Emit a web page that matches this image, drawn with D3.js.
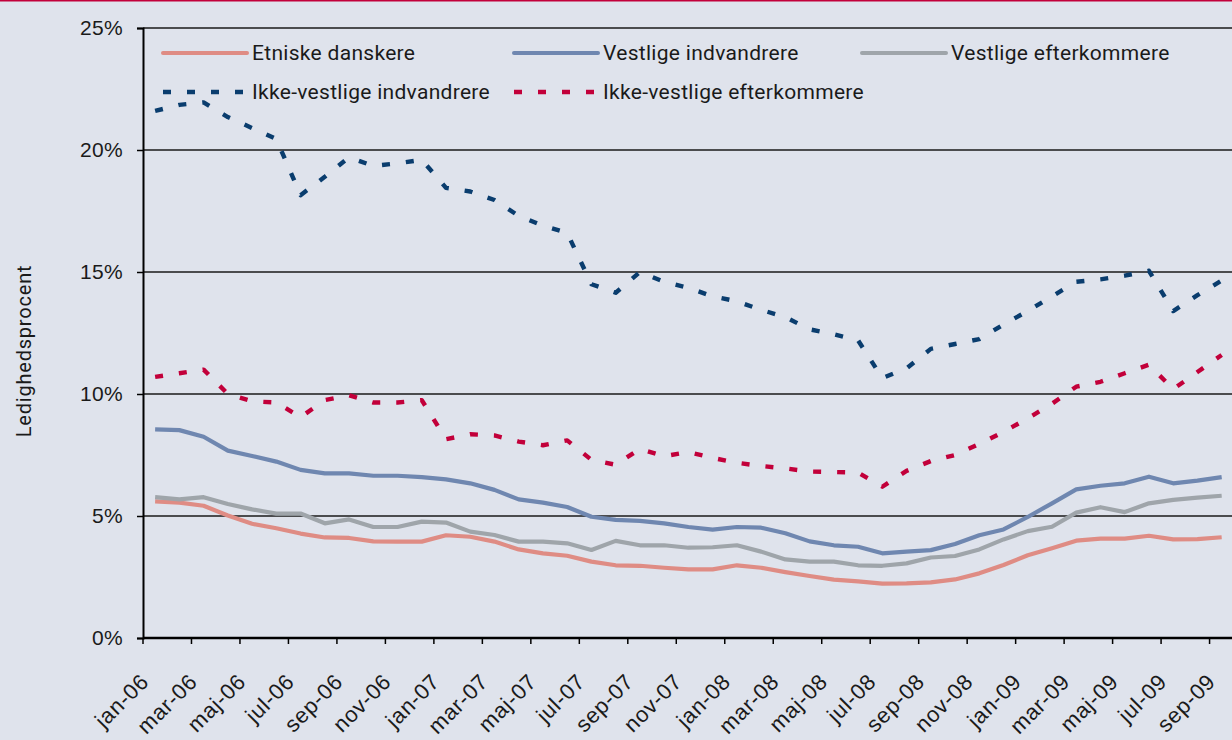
<!DOCTYPE html>
<html>
<head>
<meta charset="utf-8">
<script src="https://cdn.jsdelivr.net/npm/d3@7"></script>
<style>
    body { margin: 0; background: #dfe3ec; }
    svg { display: block; font-family: Roboto, "Open Sans", sans-serif; }
</style>
</head>
<body>
<div id="chart"></div>
<script>
// month categories, jan-06 .. sep-09
const months = [
    "jan-06", "feb-06", "mar-06", "apr-06", "maj-06", "jun-06", "jul-06", "aug-06", "sep-06", "okt-06", "nov-06", "dec-06",
    "jan-07", "feb-07", "mar-07", "apr-07", "maj-07", "jun-07", "jul-07", "aug-07", "sep-07", "okt-07", "nov-07", "dec-07",
    "jan-08", "feb-08", "mar-08", "apr-08", "maj-08", "jun-08", "jul-08", "aug-08", "sep-08", "okt-08", "nov-08", "dec-08",
    "jan-09", "feb-09", "mar-09", "apr-09", "maj-09", "jun-09", "jul-09", "aug-09", "sep-09"
];

// ledighedsprocent per group (%)
const etniskeDanskere = [
    5.6, 5.55, 5.42, 5.02, 4.68, 4.5, 4.28, 4.12, 4.1, 3.96, 3.95, 3.95,
    4.21, 4.15, 3.95, 3.63, 3.47, 3.37, 3.13, 2.98, 2.96, 2.88, 2.81, 2.81,
    2.98, 2.88, 2.7, 2.54, 2.39, 2.32, 2.23, 2.24, 2.28, 2.4, 2.65, 2.99,
    3.39, 3.68, 3.99, 4.07, 4.07, 4.19, 4.04, 4.05, 4.13
];
const vestligeIndvandrere = [
    8.55, 8.52, 8.25, 7.68, 7.46, 7.23, 6.89, 6.75, 6.75, 6.65, 6.65, 6.59,
    6.5, 6.34, 6.07, 5.68, 5.55, 5.37, 4.97, 4.84, 4.8, 4.7, 4.55, 4.44,
    4.55, 4.52, 4.29, 3.96, 3.8, 3.74, 3.47, 3.54, 3.6, 3.85, 4.21, 4.45,
    4.96, 5.52, 6.09, 6.24, 6.34, 6.61, 6.34, 6.45, 6.59
];
const vestligeEfterkommere = [
    5.77, 5.68, 5.77, 5.49, 5.27, 5.1, 5.1, 4.7, 4.86, 4.55, 4.55, 4.77,
    4.73, 4.36, 4.22, 3.95, 3.95, 3.88, 3.61, 3.98, 3.8, 3.8, 3.7, 3.72,
    3.8, 3.54, 3.22, 3.13, 3.13, 2.98, 2.96, 3.06, 3.3, 3.36, 3.63, 4.04,
    4.38, 4.56, 5.14, 5.36, 5.16, 5.52, 5.66, 5.75, 5.83
];
const ikkeVestligeIndvandrere = [
    21.6, 21.85, 21.95, 21.35, 20.9, 20.45, 18.15, 18.9, 19.7, 19.35, 19.45, 19.6,
    18.45, 18.3, 17.95, 17.3, 16.9, 16.6, 14.5, 14.15, 15.0, 14.6, 14.35, 14.0,
    13.8, 13.45, 13.15, 12.65, 12.45, 12.2, 10.65, 11.05, 11.85, 12.05, 12.25, 12.85,
    13.4, 14.0, 14.6, 14.7, 14.85, 15.05, 13.4, 14.05, 14.65
];
const ikkeVestligeEfterkommere = [
    10.7, 10.85, 11.0, 10.0, 9.7, 9.65, 9.05, 9.75, 9.95, 9.65, 9.65, 9.75,
    8.15, 8.35, 8.3, 8.05, 7.9, 8.1, 7.3, 7.1, 7.75, 7.45, 7.62, 7.38,
    7.18, 7.05, 6.95, 6.82, 6.8, 6.78, 6.2, 6.85, 7.25, 7.5, 7.95, 8.45,
    9.0, 9.6, 10.3, 10.5, 10.85, 11.2, 10.2, 10.9, 11.6
];

const yTicks = [0, 5, 10, 15, 20, 25];

const series = [
    {name: "Etniske danskere", values: etniskeDanskere, color: "#df8c84", dash: null},
    {name: "Vestlige indvandrere", values: vestligeIndvandrere, color: "#6f87b0", dash: null},
    {name: "Vestlige efterkommere", values: vestligeEfterkommere, color: "#9fa5aa", dash: null},
    {name: "Ikke-vestlige indvandrere", values: ikkeVestligeIndvandrere, color: "#0a3d6e", dash: "8,16"},
    {name: "Ikke-vestlige efterkommere", values: ikkeVestligeEfterkommere, color: "#c2003a", dash: "8,16"}
];

const W = 1232, H = 740;
const plotLeft = 143, plotBottom = 638, plotTop = 28;

let svg = d3.select("#chart").append("svg")
    .attr("width", W)
    .attr("height", H);

svg.append("rect")
    .attr("width", W).attr("height", H)
    .attr("fill", "#dfe3ec");

// thin red rule along the top edge
svg.append("rect")
    .attr("x", 0).attr("y", 0)
    .attr("width", W).attr("height", 1.5)
    .attr("fill", "#c2003a");

let x = d3.scaleBand()
    .domain(months)
    .range([plotLeft, plotLeft + months.length * 24.24]);

let y = d3.scaleLinear()
    .domain([0, 25])
    .range([plotBottom, plotTop]);

// horizontal gridlines
svg.append("g")
    .selectAll("line")
    .data(yTicks.filter(d => d > 0))
    .join("line")
    .attr("x1", plotLeft).attr("x2", W)
    .attr("y1", d => y(d)).attr("y2", d => y(d))
    .attr("stroke", "#1a1a1a")
    .attr("stroke-width", 1.5);

// y axis
let yAxis = svg.append("g")
    .attr("transform", `translate(${plotLeft},0)`)
    .call(d3.axisLeft(y).tickValues(yTicks).tickSize(6).tickFormat(d => d + "%"));
yAxis.select(".domain").attr("stroke", "#000").attr("stroke-width", 2);
yAxis.selectAll(".tick line").attr("stroke", "#000").attr("stroke-width", 1.5);
yAxis.selectAll(".tick text")
    .attr("x", -20)
    .attr("fill", "#1a1a1a")
    .style("font-size", "21px")
    .style("letter-spacing", "0.3px");

// x axis: ticks between categories, every second month
let xTickVals = months.filter((d, i) => i % 2 === 0);
let xAxis = svg.append("g")
    .attr("transform", `translate(0,${plotBottom})`)
    .call(d3.axisBottom(x).tickValues(xTickVals).tickSize(6).tickFormat(d => d));
xAxis.select(".domain").attr("d", `M${plotLeft},0H${W}`).attr("stroke", "#000").attr("stroke-width", 2.5);
xAxis.selectAll(".tick line")
    .attr("transform", `translate(${-x.bandwidth() / 2},0)`)
    .attr("stroke", "#000").attr("stroke-width", 1.5);
xAxis.selectAll(".tick text")
    .attr("fill", "#1a1a1a")
    .attr("text-anchor", "end")
    .attr("y", 0).attr("dy", 0)
    .attr("transform", "translate(-5,45) rotate(-45)")
    .style("font-size", "22px")
    .style("letter-spacing", "0.7px");

// y axis title
svg.append("text")
    .attr("transform", `translate(31,${(plotTop + plotBottom) / 2 + 18}) rotate(-90)`)
    .attr("text-anchor", "middle")
    .attr("fill", "#1a1a1a")
    .style("font-size", "20px")
    .style("letter-spacing", "0.8px")
    .text("Ledighedsprocent");

// lines
let line = d3.line()
    .x((d, i) => x(months[i]) + x.bandwidth() / 2)
    .y(d => y(d));

svg.append("g")
    .selectAll("path")
    .data(series)
    .join("path")
    .attr("d", d => line(d.values))
    .attr("fill", "none")
    .attr("stroke", d => d.color)
    .attr("stroke-width", d => d.dash ? 4.4 : 4.2)
    .attr("stroke-dasharray", d => d.dash)
    .attr("stroke-linejoin", "round");

// legend (3 columns, 2 rows)
let legendCols = [163, 514, 862];
let legendRows = [53, 92];
let legend = svg.append("g")
    .selectAll("g")
    .data(series)
    .join("g")
    .attr("transform", (d, i) => `translate(${legendCols[i % 3]},${legendRows[Math.floor(i / 3)]})`);

legend.append("line")
    .attr("x1", 0).attr("x2", 84)
    .attr("y1", 0).attr("y2", 0)
    .attr("stroke", d => d.color)
    .attr("stroke-width", d => d.dash ? 4.3 : 4)
    .attr("stroke-dasharray", d => d.dash)
    .attr("stroke-linecap", d => d.dash ? "butt" : "round");

legend.append("text")
    .attr("x", 89)
    .attr("y", 0)
    .attr("dy", "0.35em")
    .attr("fill", "#1a1a1a")
    .style("font-size", "21px")
    .style("letter-spacing", "0.3px")
    .text(d => d.name);
</script>
</body>
</html>
